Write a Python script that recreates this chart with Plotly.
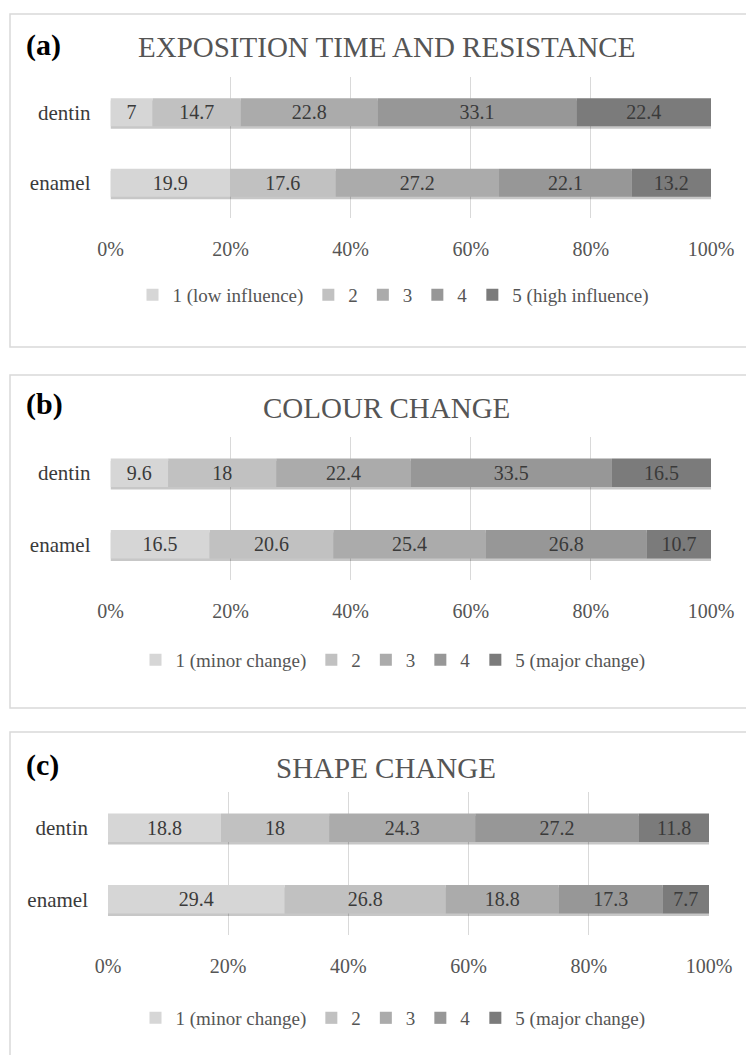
import plotly.graph_objects as go

# ---- data -------------------------------------------------------------
categories = ["enamel", "dentin"]
ticks = [0, 20, 40, 60, 80, 100]
tick_text = ["0%", "20%", "40%", "60%", "80%", "100%"]

# panel (a): exposition time and resistance
a_title = "EXPOSITION TIME AND RESISTANCE"
a_levels = ["1 (low influence)", "2", "3", "4", "5 (high influence)"]
a_enamel = [19.9, 17.6, 27.2, 22.1, 13.2]
a_dentin = [7, 14.7, 22.8, 33.1, 22.4]

# panel (b): colour change
b_title = "COLOUR CHANGE"
b_levels = ["1 (minor change)", "2", "3", "4", "5 (major change)"]
b_enamel = [16.5, 20.6, 25.4, 26.8, 10.7]
b_dentin = [9.6, 18, 22.4, 33.5, 16.5]

# panel (c): shape change
c_title = "SHAPE CHANGE"
c_levels = ["1 (minor change)", "2", "3", "4", "5 (major change)"]
c_enamel = [29.4, 26.8, 18.8, 17.3, 7.7]
c_dentin = [18.8, 18, 24.3, 27.2, 11.8]

# ---- styling ----------------------------------------------------------
W, H = 746, 1055
FONT = "Liberation Serif"
GREYS = ["#d6d6d6", "#c1c1c1", "#ababab", "#979797", "#7b7b7b"]
TXT = "#3a3a3a"
AX = "#555555"
BAR_W = 0.40          # bar thickness in category units
SHADOW_DROP = 0.035   # downward offset of the drop shadow (category units)


def px_x(x):
    return x / W


def px_y(y):
    return 1 - y / H


# pixel geometry of each panel
panels = [
    dict(tag="(a)", title=a_title, levels=a_levels, enamel=a_enamel, dentin=a_dentin,
         box=(10, 14, 347), tag_y=45, head=47, plot=(110.5, 711, 77, 218),
         legend=295, tick=248),
    dict(tag="(b)", title=b_title, levels=b_levels, enamel=b_enamel, dentin=b_dentin,
         box=(10, 375, 708), tag_y=404, head=408, plot=(110.5, 711, 437, 580),
         legend=660, tick=610),
    dict(tag="(c)", title=c_title, levels=c_levels, enamel=c_enamel, dentin=c_dentin,
         box=(10, 732, 1070), tag_y=765, head=768, plot=(108, 709, 792, 935),
         legend=1018, tick=965),
]

fig = go.Figure()
layout = dict(
    width=W, height=H,
    margin=dict(l=0, r=0, t=0, b=0, autoexpand=False),
    paper_bgcolor="white", plot_bgcolor="rgba(0,0,0,0)",
    barmode="overlay",
    font=dict(family=FONT, size=20, color=TXT),
    uniformtext=dict(minsize=20, mode="show"),
    shapes=[], annotations=[],
)

for i, p in enumerate(panels):
    n = "" if i == 0 else str(i + 1)
    xa, ya = "x" + n, "y" + n
    leg = "legend" + n
    rows = [p["enamel"], p["dentin"]]
    totals = [sum(r) for r in rows]

    # soft drop shadow underneath each full bar
    fig.add_trace(go.Bar(
        x=totals, y=categories, base=[0, 0], orientation="h",
        xaxis=xa, yaxis=ya, showlegend=False, hoverinfo="skip",
        width=BAR_W, offset=-BAR_W / 2 - SHADOW_DROP,
        marker=dict(color="rgba(0,0,0,0.22)", line=dict(width=0)),
    ))

    # stacked segments
    run = [0.0, 0.0]
    for k, lvl in enumerate(p["levels"]):
        vals = [rows[0][k], rows[1][k]]
        fig.add_trace(go.Bar(
            x=vals, y=categories, base=list(run), orientation="h", name=lvl,
            xaxis=xa, yaxis=ya, legend=leg,
            width=BAR_W, offset=-BAR_W / 2,
            marker=dict(color=GREYS[k], line=dict(width=0)),
            text=[f"{v:g}" for v in vals], textposition="inside",
            insidetextanchor="middle", textangle=0,
            textfont=dict(family=FONT, size=20, color=TXT),
            constraintext="none",
        ))
        run = [run[0] + vals[0], run[1] + vals[1]]

    x0, x1, y0, y1 = p["plot"]
    layout["xaxis" + n] = dict(
        domain=[px_x(x0), px_x(x1)], anchor=ya, range=[0, 100],
        tickvals=ticks, ticktext=tick_text, showgrid=True,
        gridcolor="#d9d9d9", gridwidth=1.3, zeroline=False, showline=False,
        ticks="", ticklabelstandoff=p["tick"] - y1 - 13, automargin=False,
        tickfont=dict(family=FONT, size=20, color=AX), fixedrange=True,
        layer="below traces",
    )
    layout["yaxis" + n] = dict(
        domain=[px_y(y1), px_y(y0)], anchor=xa, type="category",
        categoryorder="array", categoryarray=categories,
        range=[-0.5, 1.5],
        showgrid=False, zeroline=False, showline=False, ticks="",
        ticklabelstandoff=19, automargin=False,
        tickfont=dict(family=FONT, size=21, color=TXT), fixedrange=True,
    )
    layout[leg] = dict(
        orientation="h", x=px_x(393), xanchor="center", y=px_y(p["legend"]),
        yanchor="middle", font=dict(family=FONT, size=19, color=AX),
        itemwidth=30, tracegroupgap=0, bgcolor="rgba(0,0,0,0)",
        traceorder="normal",
    )

    bx0, by0, by1 = p["box"]
    layout["shapes"].append(dict(
        type="rect", xref="paper", yref="paper",
        x0=px_x(bx0), x1=1.05, y0=px_y(by1), y1=px_y(by0),
        line=dict(color="#d9d9d9", width=1.5), fillcolor="rgba(0,0,0,0)",
        layer="below",
    ))
    layout["annotations"].append(dict(
        text="<b>" + p["tag"] + "</b>", xref="paper", yref="paper",
        x=px_x(24), y=px_y(p["tag_y"]), xanchor="left", yanchor="middle",
        showarrow=False, font=dict(family=FONT, size=30, color="#000000"),
    ))
    layout["annotations"].append(dict(
        text=p["title"], xref="paper", yref="paper",
        x=px_x(386), y=px_y(p["head"]), xanchor="center", yanchor="middle",
        showarrow=False, font=dict(family=FONT, size=29, color=AX),
    ))

fig.update_layout(**layout)
fig.write_html("out.html")
